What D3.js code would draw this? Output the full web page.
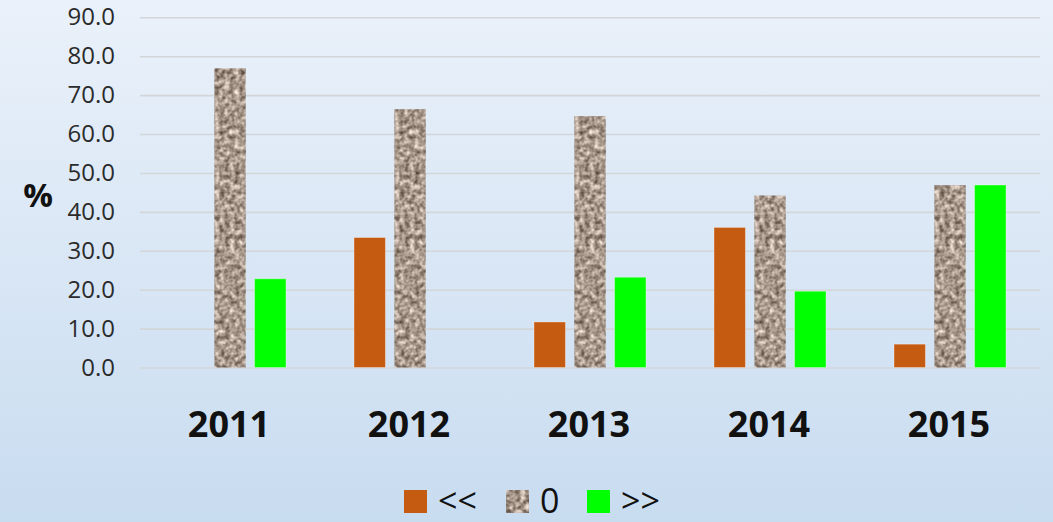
<!DOCTYPE html>
<html>
<head>
<meta charset="utf-8">
<script src="https://cdn.jsdelivr.net/npm/d3@7"></script>
<style>
  html, body { margin: 0; padding: 0; }
  body { width: 1053px; height: 522px; overflow: hidden; }
</style>
</head>
<body>
<div id="chart"></div>
<script>
// grouped bars, three series per year
const years = ['2011', '2012', '2013', '2014', '2015'];
const seriesNames = ['<<', '0', '>>'];
const lowVals  = [0.0, 33.4, 11.7, 36.0, 6.0];
const zeroVals = [76.9, 66.4, 64.6, 44.2, 46.9];
const highVals = [22.8, 0.0, 23.2, 19.6, 46.9];
const yTicks = [0, 10, 20, 30, 40, 50, 60, 70, 80, 90];

const W = 1053, H = 522;
const svg = d3.select('#chart').append('svg')
  .attr('width', W).attr('height', H);

const defs = svg.append('defs');
const bg = defs.append('linearGradient').attr('id', 'bg')
  .attr('x1', 0).attr('y1', 0).attr('x2', 0).attr('y2', 1);
bg.append('stop').attr('offset', '0%').attr('stop-color', '#eaf1fa');
bg.append('stop').attr('offset', '100%').attr('stop-color', '#c8dcf0');

// granite-ish texture for the middle series
const grain = defs.append('filter').attr('id', 'grain')
  .attr('filterUnits', 'userSpaceOnUse')
  .attr('color-interpolation-filters', 'sRGB')
  .attr('x', 0).attr('y', 0).attr('width', W).attr('height', H);
grain.append('feTurbulence')
  .attr('type', 'fractalNoise').attr('baseFrequency', 0.2)
  .attr('numOctaves', 2).attr('seed', 4).attr('result', 'noise');
grain.append('feColorMatrix').attr('in', 'noise').attr('type', 'matrix')
  .attr('values', '0.9 0 0 0 0.21  0.9 0 0 0 0.15  0.9 0 0 0 0.1  0 0 0 0 1')
  .attr('result', 'tint');
grain.append('feGaussianBlur').attr('in', 'tint').attr('stdDeviation', 0.4)
  .attr('result', 'soft');
grain.append('feComposite').attr('in', 'soft').attr('in2', 'SourceGraphic')
  .attr('operator', 'in');

svg.append('rect').attr('width', W).attr('height', H).attr('fill', 'url(#bg)');

const left = 140, right = 1040;
const y = d3.scaleLinear().domain([0, 90]).range([367.5, 17.3]);
const x0 = d3.scaleBand().domain(years).range([left, right]);
const x1 = d3.scaleBand().domain(seriesNames).range([34, 146]).paddingInner(0.22);

const fills = { '<<': '#c55a11', '0': '#ab9e8f', '>>': '#00ff00' };

// gridlines + y labels
const yAxis = svg.append('g')
  .attr('transform', `translate(${left},0)`)
  .call(d3.axisLeft(y).tickValues(yTicks).tickFormat(d3.format('.1f'))
    .tickSize(-(right - left)).tickPadding(25));
yAxis.select('.domain').remove();
yAxis.selectAll('line').attr('stroke', '#d3d6d9').attr('stroke-width', 1.6);
yAxis.selectAll('text')
  .attr('fill', '#2b2b2b').attr('font-family', 'Open Sans, sans-serif')
  .attr('font-size', 24);

svg.append('text').attr('x', 38).attr('y', 207)
  .attr('text-anchor', 'middle')
  .attr('font-family', 'Open Sans, sans-serif').attr('font-weight', 'bold')
  .attr('font-size', 33).attr('fill', '#111').text('%');

const rows = years.map((yr, i) => ({
  year: yr,
  vals: [
    { key: '<<', v: lowVals[i] },
    { key: '0', v: zeroVals[i] },
    { key: '>>', v: highVals[i] }
  ]
}));

const groups = svg.append('g').selectAll('g').data(rows).join('g')
  .attr('transform', d => `translate(${x0(d.year)},0)`);

groups.selectAll('rect').data(d => d.vals.filter(e => e.v > 0)).join('rect')
  .attr('x', d => x1(d.key))
  .attr('y', d => y(d.v))
  .attr('width', x1.bandwidth())
  .attr('height', d => y(0) - y(d.v))
  .attr('fill', d => fills[d.key])
  .attr('filter', d => d.key === '0' ? 'url(#grain)' : null)
  .attr('stroke', d => d.key === '0' ? null : 'rgba(255,255,255,0.35)')
  .attr('stroke-width', 1);

// year labels
svg.append('g').selectAll('text').data(years).join('text')
  .attr('x', d => x0(d) + x0.bandwidth() / 2 - 1)
  .attr('y', 437)
  .attr('text-anchor', 'middle')
  .attr('font-family', 'Open Sans, sans-serif').attr('font-weight', 'bold')
  .attr('font-size', 36).attr('fill', '#111')
  .text(d => d);

// legend
const legendX = [404, 506, 587];
const leg = svg.append('g').selectAll('g').data(seriesNames).join('g')
  .attr('transform', (d, i) => `translate(${legendX[i]},490)`);
leg.append('rect').attr('width', 23).attr('height', 23)
  .attr('fill', d => fills[d])
  .attr('filter', d => d === '0' ? 'url(#grain)' : null);
leg.append('text').attr('x', 34).attr('y', 23)
  .attr('font-family', 'Open Sans, sans-serif').attr('font-size', 34)
  .attr('fill', '#111').text(d => d);
</script>
</body>
</html>
